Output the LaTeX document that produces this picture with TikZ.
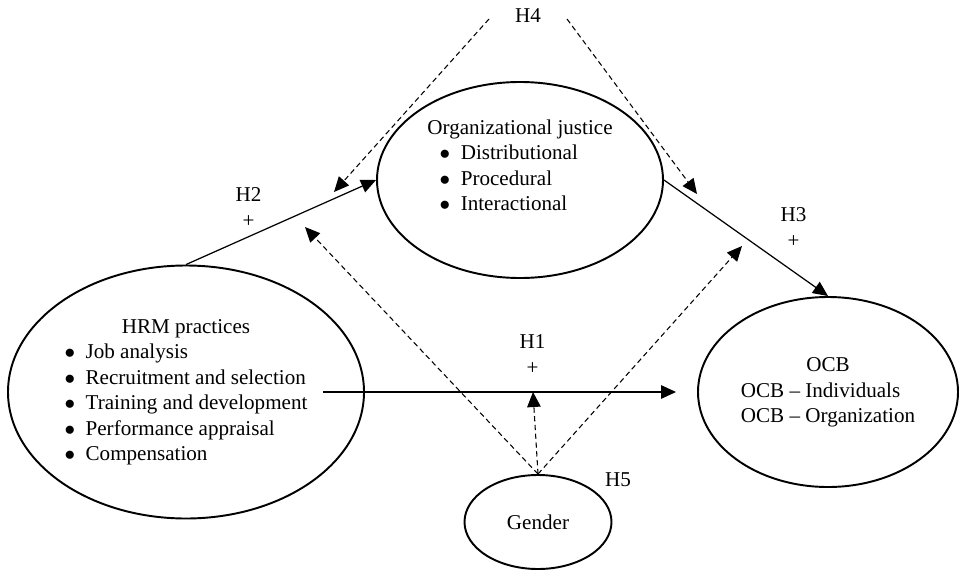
\documentclass[tikz,border=0pt]{standalone}
\usepackage{fontspec}
\setmainfont{Liberation Serif}
\usetikzlibrary{arrows.meta,positioning,shapes.geometric}
\newcommand{\bitem}[1]{$\bullet$\hspace{0.5em}#1}
\tikzset{
  >={Triangle[length=3mm,width=2.7mm]},
  construct/.style={draw,ellipse,line width=1.1pt,inner sep=0pt},
  hyp/.style      ={align=center,inner sep=1pt},
  link/.style     ={->,line width=0.7pt},
  modlink/.style  ={->,line width=0.6pt,dash pattern=on 3pt off 2pt},
}

\begin{document}
\begin{tikzpicture}[every node/.style={font=\fontsize{12}{14.5}\selectfont}]
\useasboundingbox (0,0) rectangle (19.2,11.42);
% constructs
\node[construct,minimum width=5.72cm,minimum height=3.92cm] (org) at (10.4,7.82)
  {\begin{tabular}{@{}l@{}}
   Organizational justice\\
   \hspace{7pt}\bitem{Distributional}\\
   \hspace{7pt}\bitem{Procedural}\\
   \hspace{7pt}\bitem{Interactional}\\
   \mbox{}
   \end{tabular}};
\node[construct,minimum width=7.12cm,minimum height=5.06cm] (hrm) at (3.72,3.58)
  {\begin{tabular}{@{}l@{}}
   \multicolumn{1}{@{}c@{}}{HRM practices}\\
   \bitem{Job analysis}\\
   \bitem{Recruitment and selection}\\
   \bitem{Training and development}\\
   \bitem{Performance appraisal}\\
   \bitem{Compensation}
   \end{tabular}};
\node[construct,minimum width=5.2cm,minimum height=3.8cm] (ocb) at (16.56,3.58)
  {\begin{tabular}{@{}l@{}}
   \multicolumn{1}{@{}c@{}}{OCB}\\
   OCB -- Individuals\\
   OCB -- Organization
   \end{tabular}};
\node[construct,minimum width=2.94cm,minimum height=1.88cm] (gender) at (10.76,0.98) {Gender};
% hypotheses
\node[hyp] (h1) at (10.65,4.33) {H1\\+};
\node[hyp] (h2) at (4.97,7.27) {H2\\+};
\node[hyp] (h3) at (15.87,6.87) {H3\\+};
\node[hyp] (h4) at (10.56,11.10) {H4};
\node[hyp] (h5) at (12.36,1.82) {H5};
% direct paths
\draw[link] (hrm.north) -- (org.west);
\draw[link] (org.east) -- (ocb.north);
\draw[link] ([xshift=-0.84cm]hrm.east) -- ([xshift=-0.42cm]ocb.west);
% mediation (H4)
\coordinate (h4a) at (9.78,11.04);
\coordinate (h4b) at (11.34,11.04);
\coordinate (h4l) at (6.68,7.58);
\coordinate (h4r) at (13.94,7.54);
\draw[modlink] (h4a) -- (h4l);
\draw[modlink] (h4b) -- (h4r);
% moderation (H5)
\coordinate (g2) at (6.10,6.88);
\coordinate (g3) at (14.84,6.50);
\coordinate (g1) at (10.66,3.58);
\draw[modlink] (gender.north) -- (g2);
\draw[modlink] (gender.north) -- (g3);
\draw[modlink] (gender.north) -- (g1);
\end{tikzpicture}
\end{document}
